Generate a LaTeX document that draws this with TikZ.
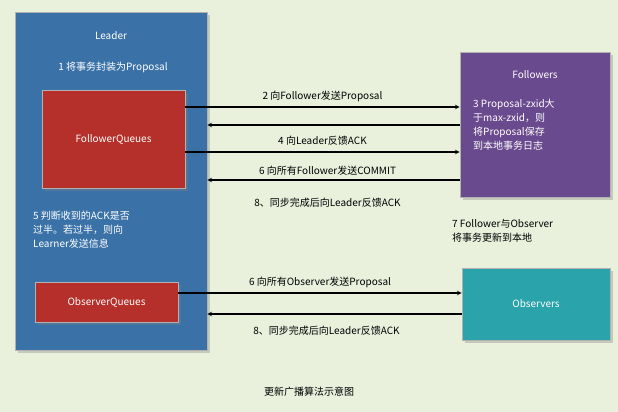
\documentclass[tikz,border=0pt]{standalone}
\usepackage{fontspec}
\setmainfont{Noto Sans CJK SC}
\usetikzlibrary{positioning,shadows}
\definecolor{bgcol}{HTML}{E9F1DD}
\definecolor{leadercol}{HTML}{3A72A8}
\definecolor{queuecol}{HTML}{B5302A}
\definecolor{followcol}{HTML}{6A4A8E}
\definecolor{obscol}{HTML}{2AA4AA}
\tikzset{
  box/.style={draw=white!70!black, line width=0.6pt, rectangle, text=white, drop shadow={opacity=0.35}},
  txt/.style={font=\fontsize{10}{14}\selectfont, inner sep=0pt},
  msg/.style={->, line width=1.1pt, >=stealth},
}
\begin{document}
\begin{tikzpicture}[x=1pt, y=-1pt]
\useasboundingbox[fill=bgcol] (0,0) rectangle (618,412);
% boxes
\node[box, fill=leadercol, minimum width=192pt, minimum height=338pt] (L) at (111,181) {};
\node[box, fill=queuecol, minimum width=143pt, minimum height=98pt, txt] (FQ) at (113.5,139) {FollowerQueues};
\node[box, fill=queuecol, minimum width=143pt, minimum height=40pt, txt] (OQ) at (106.5,302) {ObserverQueues};
\node[box, fill=followcol, minimum width=150pt, minimum height=145pt] (F) at (535,124.5) {};
\node[box, fill=obscol, minimum width=148pt, minimum height=72pt, txt] (O) at (536,304) {Observers};
% texts
\node[txt, text=white] (Lt) at (111,36) {Leader};
\node[txt, text=white] (L1) at (113,67) {1 将事务封装为Proposal};
\node[txt, text=white, align=left, anchor=north west] (L5) at (33,211) {5 判断收到的ACK是否\\过半。若过半，则向\\Learner发送信息};
\node[txt, text=white] (Ft) at (535,75) {Followers};
\node[txt, text=white, align=left, anchor=north west] (F3) at (473,99) {3 Proposal-zxid大\\于max-zxid，则\\将Proposal保存\\到本地事务日志};
\node[txt, align=left, anchor=north west] (S7) at (452,219) {7 Follower与Observer\\将事务更新到本地};
\node[txt] (cap) at (309,392) {更新广播算法示意图};
% messages
\draw[msg] (FQ.east |- 0,107) -- node[txt, above=5pt] (m2) {2 向Follower发送Proposal} (F.west |- 0,107);
\draw[msg] (F.west |- 0,125) -- (L.east |- 0,125);
\draw[msg] (FQ.east |- 0,152) -- node[txt, above=6pt] (m4) {4 向Leader反馈ACK} (F.west |- 0,152);
\draw[msg] (F.west |- 0,180) -- node[txt, above=4pt, xshift=-6pt] (m6) {6 向所有Follower发送COMMIT}
  node[txt, below=17pt, xshift=-6pt] (m8) {8、同步完成后向Leader反馈ACK} (L.east |- 0,180);
\draw[msg] (OQ.east |- 0,293) -- node[txt, above=5pt] (o6) {6 向所有Observer发送Proposal} (O.west |- 0,293);
\draw[msg] (O.west |- 0,314) -- node[txt, below=11pt, xshift=-8pt] (o8) {8、同步完成后向Leader反馈ACK} (L.east |- 0,314);
\end{tikzpicture}
\end{document}
